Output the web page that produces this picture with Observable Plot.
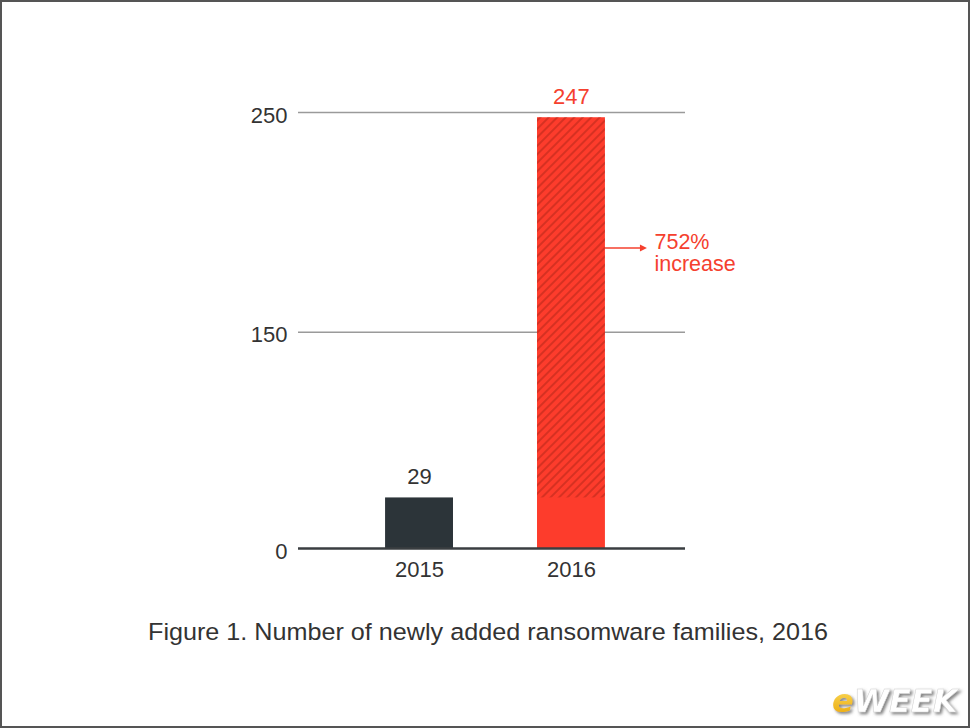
<!DOCTYPE html>
<html>
<head>
<meta charset="utf-8">
<script src="https://cdn.jsdelivr.net/npm/d3@7"></script>
<script src="https://cdn.jsdelivr.net/npm/@observablehq/plot@0.6"></script>
<style>
  html, body { margin: 0; padding: 0; background: #fff; }
  #page { position: relative; width: 970px; height: 728px; overflow: hidden; background: #fff;
          font-family: "Liberation Sans", Arial, Helvetica, sans-serif; }
  #chart { position: absolute; left: 0; top: 0; }
  #caption { position: absolute; left: 0; top: 600px; }
  #logo { position: absolute; left: 815px; top: 668px; }
  #frame { position: absolute; left: 0; top: 0; width: 970px; height: 728px; box-sizing: border-box;
           border: 2px solid #555; pointer-events: none; }
</style>
</head>
<body>
<div id="page">
  <div id="chart"></div>
  <svg id="caption" width="970" height="60"></svg>
  <svg id="logo" width="150" height="56"></svg>
  <div id="frame"></div>
</div>
<script>
// ---- data ----
const years = ["2015", "2016"];
const counts = [29, 247];
const barColors = ["#2c3439", "#fd3c2c"];
const labelColors = ["#333333", "#f5402e"];
const gridValues = [0, 124, 250];      // where the gridlines sit in the picture
const gridLabels = ["0", "150", "250"]; // what they are labelled
const annotationText = "752%\nincrease";
const annotationValue = 172;
const captionText = "Figure 1. Number of newly added ransomware families, 2016";

const red = "#f5402e";
const font = "'Liberation Sans', Arial, Helvetica, sans-serif";

const bars = years.map((year, i) => ({year, count: counts[i], color: barColors[i], labelColor: labelColors[i]}));
const hatch = [{year: years[1], from: counts[0], to: counts[1]}];
const grid = gridValues.map((v, i) => ({v, label: gridLabels[i]}));
const annotation = [{year: years[1], value: annotationValue, label: annotationText}];

const chart = Plot.plot({
  width: 970,
  height: 600,
  marginLeft: 298,
  marginRight: 285,
  marginTop: 112,
  marginBottom: 52,
  x: {domain: years, range: [305, 685], paddingInner: 0.553, paddingOuter: 0.527, round: false, axis: null},
  y: {domain: [0, 250], axis: null},
  color: {type: "identity"},
  style: {fontFamily: font, background: "transparent", overflow: "visible"},
  marks: [
    Plot.ruleY(grid.filter(d => d.v > 0), {y: "v", stroke: "#9a9a9a", strokeWidth: 1.3}),
    Plot.barY(bars, {x: "year", y: "count", fill: "color"}),
    Plot.barY(hatch, {x: "year", y1: "from", y2: "to", fill: "url(#hatch)"}),
    Plot.ruleY([0], {stroke: "#3a3e41", strokeWidth: 2.5}),
    Plot.text(grid, {y: "v", text: "label", frameAnchor: "left", lineAnchor: "middle", textAnchor: "end",
                     dx: -11, dy: 3, fontSize: 22, fill: "#333"}),
    Plot.text(bars, {x: "year", text: "year", frameAnchor: "bottom", lineAnchor: "middle", dy: 21.5,
                     fontSize: 22, fill: "#333"}),
    Plot.text(bars, {x: "year", y: "count", text: d => String(d.count), dy: -20.5, fontSize: 22,
                     fill: "labelColor"}),
    Plot.text(annotation, {x: "year", y: "value", text: "label", dx: 83, dy: 4.4, textAnchor: "start",
                           lineHeight: 1.05, fontSize: 21.5, fill: red})
  ]
});
document.getElementById("chart").appendChild(chart);

// hatch pattern used by the overlay bar
const svg = d3.select(chart);
const defs = svg.insert("defs", ":first-child");
const pat = defs.append("pattern")
  .attr("id", "hatch")
  .attr("patternUnits", "userSpaceOnUse")
  .attr("width", 6).attr("height", 6)
  .attr("patternTransform", "rotate(45)");
pat.append("line").attr("x1", 3).attr("y1", 0).attr("x2", 3).attr("y2", 6)
  .attr("stroke", "#b8281b").attr("stroke-opacity", 0.75).attr("stroke-width", 1.5);

// annotation arrow, positioned through the chart's scales
const xs = chart.scale("x"), ys = chart.scale("y");
const ax0 = xs.apply(years[1]) + xs.bandwidth;
const ay = ys.apply(annotationValue);
const arrowLen = 42;
svg.append("line")
  .attr("x1", ax0).attr("y1", ay).attr("x2", ax0 + arrowLen - 5).attr("y2", ay)
  .attr("stroke", red).attr("stroke-width", 1.5);
svg.append("path")
  .attr("d", `M${ax0 + arrowLen},${ay} L${ax0 + arrowLen - 7},${ay - 3.5} L${ax0 + arrowLen - 7},${ay + 3.5} Z`)
  .attr("fill", red);

// caption
d3.select("#caption").append("text")
  .attr("x", 148).attr("y", 40)
  .attr("textLength", 680).attr("lengthAdjust", "spacingAndGlyphs")
  .attr("font-family", font).attr("font-size", 24.5).attr("fill", "#333")
  .text(captionText);

// eWEEK logo
const logo = d3.select("#logo");
const ldefs = logo.append("defs");
const f = ldefs.append("filter").attr("id", "shadow").attr("x", "-20%").attr("y", "-20%").attr("width", "150%").attr("height", "160%");
f.append("feDropShadow").attr("dx", 2).attr("dy", 2).attr("stdDeviation", 1.5).attr("flood-color", "#777").attr("flood-opacity", 0.9);
const g = ldefs.append("linearGradient").attr("id", "gold").attr("x1", 0).attr("y1", 0).attr("x2", 0).attr("y2", 1);
g.append("stop").attr("offset", "0%").attr("stop-color", "#fde36a");
g.append("stop").attr("offset", "100%").attr("stop-color", "#e9a300");
const t = logo.append("text").attr("x", 17).attr("y", 44)
  .attr("font-family", "'DejaVu Sans', sans-serif").attr("font-weight", "bold").attr("font-style", "italic")
  .attr("font-size", 32).attr("filter", "url(#shadow)");
t.append("tspan").attr("fill", "url(#gold)").text("e");
t.append("tspan").attr("fill", "#fff").attr("stroke", "#d0d0d0").attr("stroke-width", 0.5).text("WEEK");
</script>
</body>
</html>
